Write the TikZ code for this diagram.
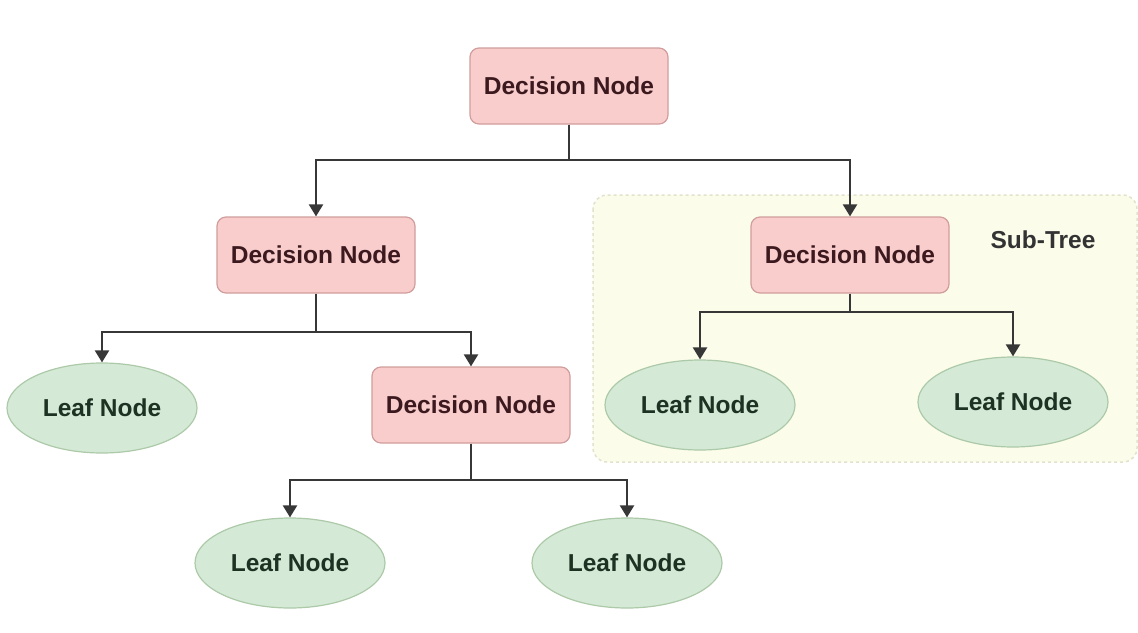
\documentclass[tikz,border=0pt]{standalone}
\usepackage{fontspec}
\setmainfont{Liberation Sans}
\usepackage{xcolor}
\usetikzlibrary{shapes.geometric, arrows.meta, positioning}
\definecolor{decisionfill}{RGB}{248,205,204}
\definecolor{decisiondraw}{RGB}{208,158,156}
\definecolor{decisiontext}{RGB}{60,25,30}
\definecolor{leaffill}{RGB}{212,233,214}
\definecolor{leafdraw}{RGB}{172,201,168}
\definecolor{leaftext}{RGB}{30,50,35}
\definecolor{subtreefill}{RGB}{252,252,235}
\definecolor{subtreedraw}{RGB}{226,226,205}
\definecolor{linkgray}{RGB}{55,55,55}

\begin{document}
\begin{tikzpicture}[
    x=1pt, y=-1pt,
    decision/.style={rectangle, rounded corners=9pt, minimum width=198pt, minimum height=76pt, fill=decisionfill, draw=decisiondraw, line width=1.2pt, text=decisiontext, font=\fontsize{24.5}{28}\selectfont\bfseries},
    leaf/.style={ellipse, minimum width=190pt, minimum height=90pt, fill=leaffill, draw=leafdraw, line width=1.2pt, text=leaftext, font=\fontsize{24.5}{28}\selectfont\bfseries},
    arrow/.style={-{Triangle[width=14pt, length=12pt]}, line width=2.2pt, draw=linkgray}
]
\useasboundingbox (0,0) rectangle (1138,632);

% Sub-tree region
\draw[fill=subtreefill, draw=subtreedraw, line width=1.5pt, dash pattern=on 3pt off 3pt, rounded corners=14pt] (593,195) rectangle (1137,462);
\node[font=\fontsize{24.5}{28}\selectfont\bfseries, text=black!80] (subtree) at (1043,240) {Sub-Tree};

% Decision nodes
\node[decision] (root) at (569,86) {Decision Node};
\node[decision] (dnleft) at (316,255) {Decision Node};
\node[decision] (dnright) at (850,255) {Decision Node};
\node[decision] (dnmid) at (471,405) {Decision Node};

% Leaf nodes
\node[leaf] (leafa) at (102,408) {Leaf Node};
\node[leaf] (leafb) at (290,563) {Leaf Node};
\node[leaf] (leafc) at (627,563) {Leaf Node};
\node[leaf] (leafd) at (700,405) {Leaf Node};
\node[leaf] (leafe) at (1013,402) {Leaf Node};

% Connect nodes
\draw[arrow] (root.south) -- ++(0,35) -| (dnleft.north);
\draw[arrow] (root.south) -- ++(0,35) -| (dnright.north);
\draw[arrow] (dnleft.south) -- ++(0,38) -| (leafa.north);
\draw[arrow] (dnleft.south) -- ++(0,38) -| (dnmid.north);
\draw[arrow] (dnmid.south) -- ++(0,36) -| (leafb.north);
\draw[arrow] (dnmid.south) -- ++(0,36) -| (leafc.north);
\draw[arrow] (dnright.south) -- ++(0,18) -| (leafd.north);
\draw[arrow] (dnright.south) -- ++(0,18) -| (leafe.north);
\end{tikzpicture}
\end{document}
